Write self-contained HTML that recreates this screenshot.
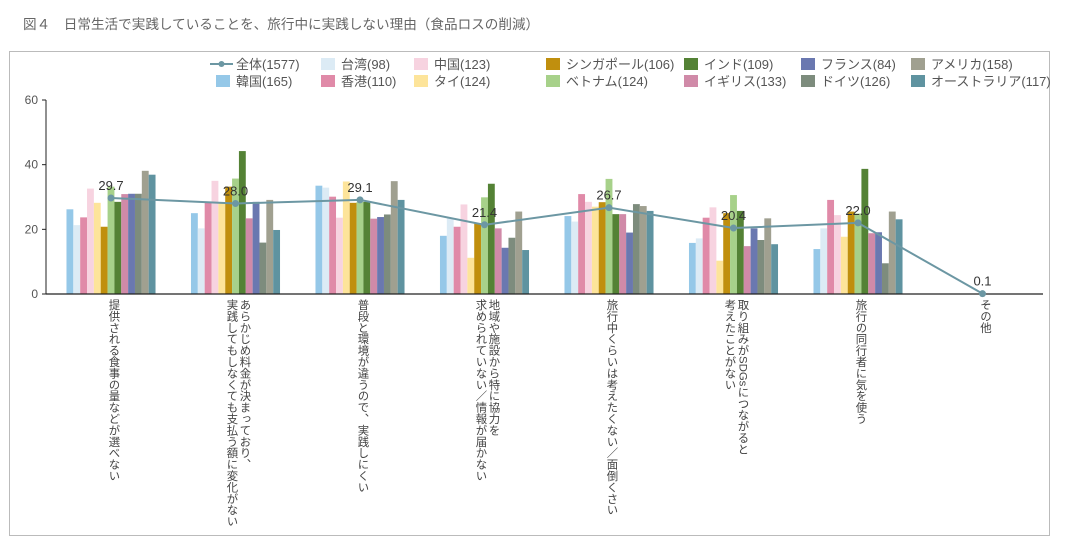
<!DOCTYPE html>
<html><head><meta charset="utf-8"><style>
body{margin:0;background:#fff;width:1066px;height:548px;overflow:hidden;position:relative;font-family:"Liberation Sans","Noto Sans CJK JP",sans-serif;color:#444}
#title{position:absolute;left:23px;top:13px;font-size:13.6px;color:#666;white-space:nowrap}
#frame{position:absolute;left:9px;top:51px;width:1041px;height:485px;border:1px solid #bbb;box-sizing:border-box}
svg{position:absolute;left:0;top:0}
.lab{position:absolute;top:299px;writing-mode:vertical-rl;font-size:11.4px;line-height:13px;color:#444;white-space:pre}
</style></head><body>
<div id="title">図４　日常生活で実践していることを、旅行中に実践しない理由（食品ロスの削減）</div>
<div id="frame"></div>
<svg id="chart" width="1066" height="548"></svg>
<script>
const categories=["提供される食事の量などが選べない","あらかじめ料金が決まっており、\n実践してもしなくても支払う額に変化がない","普段と環境が違うので、実践しにくい","地域や施設から特に協力を\n求められていない／情報が届かない","旅行中くらいは考えたくない／面倒くさい","取り組みがSDGsにつながると\n考えたことがない","旅行の同行者に気を使う","その他"];
const seriesNames=["韓国(165)","台湾(98)","香港(110)","中国(123)","タイ(124)","シンガポール(106)","ベトナム(124)","インド(109)","イギリス(133)","フランス(84)","ドイツ(126)","アメリカ(158)","オーストラリア(117)"];
const colors=["#95c8e8","#dcebf5","#e08aa8","#f7d3e0","#fde49a","#c08f0e","#a7d18a","#548235","#d08aa8","#6a78b0","#7d8c7d","#a0a090","#5f93a0"];
const korea=[26.2,25.0,33.5,18.0,24.1,15.8,13.9,0];
const taiwan=[21.3,20.3,32.9,23.4,22.4,17.2,20.3,0];
const hongkong=[23.7,28.5,30.1,20.8,30.9,23.6,29.1,0];
const china=[32.6,35.0,23.6,27.7,28.5,26.8,24.4,0];
const thai=[28.2,28.0,34.8,11.2,27.0,10.3,17.7,0];
const singapore=[20.8,33.2,28.2,21.9,28.4,25.0,25.5,0];
const vietnam=[33.2,35.7,28.5,29.9,35.6,30.6,24.9,0];
const india=[28.5,44.2,28.5,34.1,24.7,25.7,38.7,0];
const uk=[30.9,23.4,23.3,20.3,24.7,14.8,18.8,0];
const france=[31.0,28.5,23.8,14.3,19.0,20.3,19.1,0];
const germany=[31.0,15.9,24.6,17.4,27.8,16.7,9.5,0];
const usa=[38.1,29.1,34.9,25.5,27.2,23.4,25.5,0];
const australia=[36.9,19.8,29.1,13.6,25.7,15.4,23.1,0];
const total=[29.7,28.0,29.1,21.4,26.7,20.4,22.0,0.1];
const yTicks=[0,20,40,60];
const allSeries=[korea,taiwan,hongkong,china,thai,singapore,vietnam,india,uk,france,germany,usa,australia];
const legendOrder=[["全体(1577)",-1],["台湾(98)",1],["中国(123)",3],["シンガポール(106)",5],["インド(109)",7],["フランス(84)",9],["アメリカ(158)",11],["韓国(165)",0],["香港(110)",2],["タイ(124)",4],["ベトナム(124)",6],["イギリス(133)",8],["ドイツ(126)",10],["オーストラリア(117)",12]];

const NS="http://www.w3.org/2000/svg";
const svg=document.getElementById('chart');
const X0=48.75,GW=124.5,Y0=294,YT=100,YMAX=60,BW=6.85;
const y=v=>Y0-(v/YMAX)*(Y0-YT);
const cx=i=>X0+GW*(i+0.5);
function mk(t,a){const e=document.createElementNS(NS,t);for(const k in a)e.setAttribute(k,a[k]);svg.appendChild(e);return e;}
const ax=mk('line',{x1:46,x2:46,y1:y(60),y2:Y0,stroke:'#222','stroke-width':1});

yTicks.forEach(t=>{
 const l=mk('line',{x1:42,x2:46,y1:y(t),y2:y(t),stroke:'#222'});
 
 const tx=mk('text',{x:38,y:y(t)+4,'text-anchor':'end','font-size':12,fill:'#555'});tx.textContent=t;
 
});
allSeries.forEach((s,si)=>{s.forEach((v,ci)=>{
 const x=cx(ci)-BW*6.5+si*BW;
 const r=mk('rect',{x:x,y:y(v),width:BW,height:Y0-y(v),fill:colors[si]});
 
});});
const xl=mk('line',{x1:46,x2:1043,y1:Y0,y2:Y0,stroke:'#222','stroke-width':1.2});

const pts=total.map((v,i)=>cx(i)+','+y(v)).join(' ');
const pl=mk('polyline',{points:pts,fill:'none',stroke:'#6c97a3','stroke-width':2});

total.forEach((v,i)=>{
 const c=mk('circle',{cx:cx(i),cy:y(v),r:3.5,fill:'#6c97a3'});
 
 const t=mk('text',{x:cx(i),y:y(v)-8,'text-anchor':'middle','font-size':13,fill:'#333'});t.textContent=v.toFixed(1);
 
});
const colX=[210,315,408,540,678,795,905];
legendOrder.forEach((e,k)=>{
 const col=k%7,row=Math.floor(k/7);const lx=colX[col],ly=64+row*17;
 if(e[1]<0){
  const l=mk('line',{x1:lx,x2:lx+23,y1:ly,y2:ly,stroke:'#6c97a3','stroke-width':2});
  
  const c=mk('circle',{cx:lx+11.5,cy:ly,r:3,fill:'#6c97a3'});
  
 }else{
  const r=mk('rect',{x:lx+6,y:ly-6,width:14,height:12,fill:colors[e[1]]});
  
 }
 const t=mk('text',{x:lx+26,y:ly+5,'font-size':13,fill:'#555'});t.textContent=e[0];
 
});
categories.forEach((c,i)=>{
 const d=document.createElement('div');d.className='lab';d.textContent=c;
 
 
 document.body.appendChild(d);
 const w=d.offsetWidth;d.style.left=(cx(i)-w/2+2)+'px';
});
</script>
</body></html>
